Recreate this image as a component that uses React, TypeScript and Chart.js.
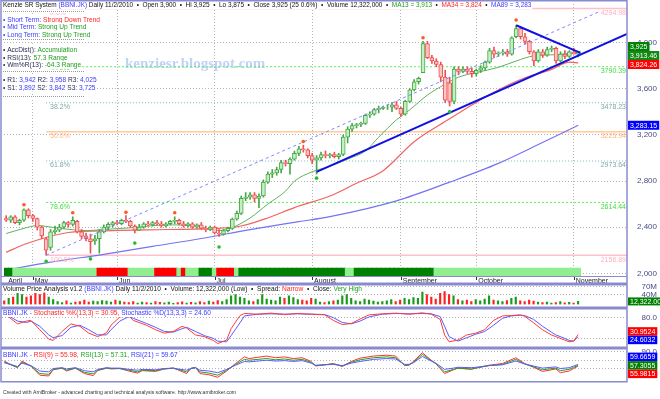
import React, { useEffect, useRef } from 'react';
import { Chart, registerables } from 'chart.js';

Chart.register(...registerables);

// ------------------------------------------------------------------ data
const monthTickIdx = [0, 6, 25, 47, 69, 89, 106, 128];
const monthNames = ['April', 'May', 'Jun', 'Jul', 'August', 'September', 'October', 'November'];
const priceTicks = [2000, 2400, 2800, 3200, 3600, 4000];

const opens = [
  2475, 2460, 2490, 2440, 2460, 2550, 2500, 2475, 2400, 2300,
  2225, 2360, 2375, 2400, 2440, 2425, 2450, 2360, 2325, 2300,
  2280, 2300, 2360, 2400, 2420, 2440, 2430, 2460, 2450, 2410,
  2375, 2400, 2430, 2420, 2440, 2430, 2410, 2430, 2450, 2460,
  2430, 2410, 2430, 2400, 2420, 2390, 2380, 2400, 2350, 2340,
  2370, 2390, 2470, 2520, 2650, 2660, 2680, 2650, 2670, 2790,
  2860, 2870, 2900, 2960, 2950, 2990, 3040, 3080, 3070, 3020,
  2980, 3000, 3030, 3020, 3030, 3010, 3030, 3180, 3250, 3280,
  3290, 3300, 3370, 3380, 3420, 3430, 3440, 3440, 3460, 3430,
  3380, 3490, 3590, 3660, 3740, 3990, 3870, 3840, 3810, 3700,
  3650, 3490, 3770, 3750, 3770, 3750, 3730, 3760, 3780, 3830,
  3930, 3900, 3910, 3920, 3900, 4050, 4120, 4050, 4010, 3920,
  3840, 3920, 3890, 3940, 3950, 3840, 3900, 3880, 3920, 3900,
];
const highs = [
  2500, 2500, 2500, 2470, 2560, 2560, 2510, 2480, 2410, 2310,
  2380, 2410, 2425, 2450, 2450, 2490, 2460, 2380, 2350, 2340,
  2330, 2380, 2420, 2440, 2450, 2460, 2470, 2500, 2460, 2420,
  2425, 2440, 2450, 2450, 2460, 2450, 2440, 2460, 2490, 2470,
  2450, 2440, 2440, 2430, 2440, 2410, 2410, 2410, 2380, 2380,
  2400, 2480, 2540, 2670, 2700, 2700, 2700, 2690, 2810, 2880,
  2900, 2920, 2980, 2980, 3000, 3060, 3100, 3110, 3080, 3040,
  3020, 3050, 3060, 3040, 3050, 3040, 3200, 3270, 3300, 3300,
  3310, 3380, 3400, 3430, 3450, 3450, 3460, 3480, 3490, 3440,
  3500, 3600, 3680, 3700, 4010, 4010, 3890, 3860, 3830, 3760,
  3700, 3790, 3790, 3790, 3790, 3780, 3770, 3800, 3840, 3950,
  3960, 3920, 3940, 3940, 4050, 4150, 4130, 4080, 4020, 3930,
  3940, 3940, 3960, 3970, 3960, 3920, 3930, 3930, 3950, 3925,
];
const lows = [
  2450, 2440, 2430, 2420, 2450, 2480, 2450, 2375, 2300, 2157,
  2200, 2340, 2360, 2390, 2400, 2410, 2350, 2300, 2280, 2175,
  2250, 2175, 2350, 2380, 2400, 2420, 2420, 2440, 2400, 2350,
  2370, 2390, 2410, 2410, 2420, 2400, 2400, 2420, 2430, 2420,
  2400, 2400, 2390, 2390, 2380, 2360, 2370, 2340, 2320, 2330,
  2360, 2380, 2460, 2510, 2630, 2640, 2620, 2570, 2660, 2780,
  2830, 2850, 2870, 2930, 2860, 2980, 3020, 3050, 3000, 2950,
  2860, 2980, 3000, 3000, 3000, 2990, 3020, 3130, 3230, 3260,
  3270, 3290, 3350, 3370, 3390, 3420, 3420, 3400, 3420, 3360,
  3370, 3480, 3580, 3640, 3740, 3860, 3820, 3790, 3660, 3480,
  3450, 3470, 3720, 3740, 3730, 3700, 3710, 3740, 3760, 3820,
  3870, 3880, 3890, 3880, 3890, 4040, 4030, 3990, 3900, 3800,
  3830, 3870, 3880, 3920, 3820, 3830, 3860, 3870, 3900, 3875,
];
const closes = [
  2460, 2490, 2440, 2460, 2550, 2500, 2475, 2400, 2325, 2200,
  2360, 2375, 2400, 2440, 2425, 2460, 2360, 2320, 2300, 2275,
  2300, 2360, 2400, 2425, 2440, 2430, 2460, 2450, 2410, 2375,
  2400, 2430, 2420, 2440, 2430, 2410, 2430, 2450, 2460, 2430,
  2410, 2430, 2400, 2420, 2390, 2380, 2400, 2350, 2340, 2370,
  2390, 2470, 2520, 2650, 2660, 2680, 2650, 2670, 2790, 2860,
  2870, 2900, 2960, 2950, 2990, 3040, 3080, 3070, 3020, 2980,
  3000, 3030, 3020, 3030, 3010, 3030, 3180, 3250, 3280, 3290,
  3300, 3370, 3380, 3420, 3430, 3440, 3440, 3460, 3430, 3380,
  3490, 3590, 3660, 3690, 3990, 3870, 3840, 3810, 3700, 3500,
  3490, 3770, 3750, 3770, 3750, 3730, 3760, 3780, 3830, 3930,
  3900, 3910, 3920, 3900, 4040, 4120, 4050, 4010, 3920, 3840,
  3920, 3890, 3940, 3950, 3840, 3900, 3880, 3920, 3900, 3925,
];
const volumesM = [
  15, 25, 30, 45, 40, 30, 35, 45, 40, 48,
  30, 20, 12, 8, 15, 6, 10, 12, 18, 10,
  14, 12, 16, 14, 10, 18, 14, 10, 8, 12,
  6, 10, 8, 6, 12, 9, 7, 10, 5, 8,
  11, 6, 9, 7, 12, 8, 14, 10, 16, 12,
  20, 35, 40, 30, 25, 15, 12, 20, 40, 22,
  18, 15, 30, 25, 35, 28, 20, 18, 15, 25,
  22, 10, 8, 12, 15, 18, 35, 40, 25, 15,
  12, 22, 18, 14, 10, 12, 15, 20, 12, 18,
  25, 20, 28, 25, 50, 40, 30, 22, 45, 52,
  40, 35, 20, 15, 18, 12, 20, 15, 22, 35,
  18, 15, 12, 16, 25, 30, 15, 12, 18, 14,
  10, 8, 10, 6, 8, 12, 7, 9, 6, 12.322,
];
// trend ribbon: [firstBar, lastBar, state]  D = dark green, L = light green, R = red
const trendSegments: [number, number, string][] = [
  [0, 1, 'D'], [2, 20, 'L'], [21, 27, 'R'], [28, 33, 'L'], [34, 38, 'R'], [39, 39, 'L'],
  [40, 40, 'R'], [41, 43, 'L'], [44, 46, 'D'], [47, 47, 'L'], [48, 51, 'R'], [52, 52, 'L'],
  [53, 76, 'D'], [77, 78, 'L'], [79, 96, 'D'], [97, 129, 'L'],
];
const ma13 = [
  [0, 2345], [4, 2390], [7, 2414], [12, 2390], [18, 2371], [24, 2385], [29, 2397], [36, 2420],
  [42, 2415], [48, 2371], [51, 2397], [55, 2480], [59, 2600], [63, 2713], [65, 2799], [69, 2880],
  [73, 2928], [77, 2990], [81, 3060], [84, 3180], [88, 3330], [91, 3417], [95, 3545], [99, 3640],
  [102, 3700], [106, 3740], [111, 3785], [115, 3840], [119, 3885], [124, 3895], [129, 3913],
];
const ma34 = [
  [0, 2182], [4, 2250], [9, 2311], [14, 2354], [24, 2371], [36, 2380], [48, 2390], [53, 2410],
  [59, 2480], [65, 2570], [73, 2670], [79, 2780], [85, 2890], [92, 3141], [100, 3339], [105, 3459],
  [110, 3570], [116, 3680], [123, 3767], [127, 3830], [129, 3824],
];
const ma89 = [
  [0, 2028], [10, 2097], [22, 2165], [33, 2234], [44, 2302], [55, 2379], [66, 2448], [73, 2491],
  [88, 2628], [100, 2790], [111, 2953], [120, 3116], [129, 3283],
];
const fibStartIdx = 9;
const fibLevels = [4294.98, 3790.39, 3478.23, 3225.94, 2973.64, 2614.44, 2156.89];
const fibPercents = ['0.0%', '23.6%', '38.2%', '50.0%', '61.8%', '78.6%', '100.0%'];
const highMarks = [[4, 2595], [15, 2525], [27, 2530], [38, 2525], [67, 3142], [94, 4041], [115, 4195]];
const lowMarks = [[9, 2105], [19, 2125], [29, 2262], [48, 2228], [70, 2825], [100, 3400]];
const trendDashed = [[9, 2157], [134, 4272]];
const trendSupport = [[70, 2880], [140, 4075]];
const trendResist = [[115, 4150], [129.5, 3910]];

const stochK = [
  [0, 88], [1, 82], [3, 62], [5, 70], [6, 72], [8, 45], [10, 18], [11, 14], [13, 40], [15, 62],
  [17, 55], [19, 35], [21, 25], [23, 36], [24, 58], [26, 82], [28, 85], [29, 72], [32, 58], [34, 45],
  [36, 35], [38, 40], [40, 55], [41, 50], [43, 30], [45, 25], [47, 14], [48, 5], [50, 15], [51, 48],
  [53, 86], [54, 92], [57, 90], [60, 93], [63, 89], [66, 92], [69, 90], [72, 88], [74, 72], [76, 60],
  [78, 63], [80, 76], [82, 88], [85, 91], [88, 93], [91, 90], [94, 94], [96, 90], [98, 75], [99, 30],
  [100, 10], [102, 15], [104, 30], [106, 35], [108, 45], [110, 72], [112, 85], [114, 86], [116, 88],
  [117, 84], [119, 65], [121, 45], [123, 30], [124, 25], [126, 15], [127, 10], [128, 12], [129, 30.95],
];
const stochD = [
  [0, 86], [1, 85], [3, 70], [5, 66], [6, 70], [8, 55], [10, 30], [11, 22], [13, 28], [15, 52],
  [17, 58], [19, 45], [21, 30], [23, 30], [24, 45], [26, 70], [28, 83], [29, 78], [32, 63], [34, 52],
  [36, 40], [38, 38], [40, 48], [41, 52], [43, 40], [45, 28], [47, 20], [48, 12], [50, 10], [51, 28],
  [53, 65], [54, 85], [57, 90], [60, 91], [63, 90], [66, 91], [69, 90], [72, 89], [74, 80], [76, 66],
  [78, 62], [80, 70], [82, 82], [85, 90], [88, 92], [91, 91], [94, 92], [96, 91], [98, 83], [99, 55],
  [100, 25], [102, 12], [104, 22], [106, 32], [108, 40], [110, 58], [112, 78], [114, 85], [116, 87],
  [117, 86], [119, 75], [121, 55], [123, 38], [124, 30], [126, 20], [127, 14], [128, 12], [129, 24.6],
];
const rsi9 = [
  [0, 68], [1, 62], [3, 52], [4, 68], [6, 56], [8, 34], [10, 32], [11, 47], [13, 51], [14, 44],
  [16, 51], [18, 38], [20, 33], [21, 45], [23, 51], [24, 49], [26, 50], [28, 44], [30, 39], [31, 45],
  [34, 43], [36, 49], [38, 51], [39, 47], [41, 38], [42, 51], [43, 53], [44, 38], [46, 35], [48, 29],
  [50, 44], [52, 62], [54, 78], [55, 74], [57, 77], [59, 80], [61, 76], [63, 78], [65, 74], [67, 76],
  [69, 67], [70, 56], [72, 59], [74, 62], [76, 55], [78, 67], [80, 75], [83, 80], [86, 82], [88, 80],
  [90, 57], [91, 58], [92, 67], [94, 88], [96, 70], [97, 62], [99, 38], [101, 47], [102, 51], [105, 48],
  [106, 51], [109, 58], [112, 62], [115, 76], [117, 62], [119, 53], [121, 43], [124, 49], [125, 40],
  [127, 44], [128, 50], [129, 55.98],
];
const rsi13 = [
  [0, 66], [1, 61], [3, 53], [4, 65], [6, 56], [8, 38], [10, 36], [11, 48], [13, 51], [14, 46],
  [16, 51], [18, 41], [20, 37], [21, 46], [23, 51], [24, 50], [26, 50], [28, 46], [30, 42], [31, 46],
  [34, 45], [36, 49], [38, 51], [39, 48], [41, 42], [42, 50], [43, 52], [44, 42], [46, 39], [48, 34],
  [50, 46], [52, 60], [54, 72], [55, 70], [57, 72], [59, 74], [61, 71], [63, 73], [65, 70], [67, 72],
  [69, 65], [70, 57], [72, 59], [74, 61], [76, 56], [78, 65], [80, 71], [83, 76], [86, 78], [88, 76],
  [90, 58], [91, 59], [92, 65], [94, 84], [96, 69], [97, 62], [99, 42], [101, 48], [102, 51], [105, 49],
  [106, 51], [109, 57], [112, 60], [115, 72], [117, 61], [119, 54], [121, 47], [124, 51], [125, 45],
  [127, 48], [128, 53], [129, 57.31],
];
const rsi21 = [
  [0, 64], [1, 61], [3, 55], [4, 63], [6, 57], [8, 44], [10, 42], [11, 50], [13, 52], [14, 49],
  [16, 52], [18, 45], [20, 42], [21, 48], [23, 52], [24, 51], [26, 51], [28, 48], [30, 46], [31, 48],
  [34, 47], [36, 50], [38, 51], [39, 49], [41, 46], [42, 50], [43, 52], [44, 46], [46, 44], [48, 40],
  [50, 48], [52, 58], [54, 67], [55, 66], [57, 68], [59, 70], [61, 68], [63, 69], [65, 67], [67, 69],
  [69, 63], [70, 58], [72, 59], [74, 60], [76, 57], [78, 63], [80, 67], [83, 72], [86, 74], [88, 73],
  [90, 60], [91, 60], [92, 64], [94, 79], [96, 68], [97, 63], [99, 48], [101, 51], [102, 53], [105, 52],
  [106, 53], [109, 57], [112, 59], [115, 68], [117, 61], [119, 56], [121, 51], [124, 54], [125, 50],
  [127, 52], [128, 56], [129, 59.67],
];

// ------------------------------------------------------------------ styles
const X_MIN = -0.5;
const X_MAX = 140;
const FF = '"Liberation Sans", Arial, Helvetica, sans-serif';
const TXT = 6.6;
const font = (px: number = TXT, w: string = 'normal') => `${w} ${px}px ${FF}`;
const BLUE = '#3a3aff';
const RED = '#ff2424';
const GREEN = '#1e9e1e';
const BLACK = '#111111';
const DARKLBL = '#2a2a55';
const FRAME = '#8a8ad0';
const GRID = '#b4b4b4';
const AXIS_TXT = '#4b4b88';
const UP_LINE = '#47a847';
const UP_FILL = '#c4eec4';
const DN_LINE = '#ee5050';
const DN_FILL = '#ffc4c4';
const STRIP_COLORS: Record<string, string> = { D: '#008000', L: '#90ee90', R: '#ff0000' };
const FIB_STYLES = [
  { c: '#ffbfcb', t: '#ffafbf', dash: [] as number[], w: 1.5 },
  { c: '#55ee55', t: '#44dd44', dash: [2, 2], w: 1 },
  { c: '#80b4b4', t: '#80a8a8', dash: [1, 2], w: 1.2 },
  { c: '#ffcc99', t: '#ffb380', dash: [] as number[], w: 1.5 },
  { c: '#80b4b4', t: '#80a8a8', dash: [1, 2], w: 1.2 },
  { c: '#55ee55', t: '#44dd44', dash: [2, 2], w: 1 },
  { c: '#ffbfcb', t: '#ffafbf', dash: [] as number[], w: 1.5 },
];

const toXY = (a: number[][]) => a.map(([x, y]) => ({ x, y }));

type Seg = [string, string];
function drawSegs(ctx: CanvasRenderingContext2D, x: number, y: number, segs: Seg[], f: string, bg = true) {
  ctx.save();
  ctx.font = f;
  ctx.textBaseline = 'middle';
  ctx.textAlign = 'left';
  const ws = segs.map((s) => ctx.measureText(s[0]).width);
  const tot = ws.reduce((a, b) => a + b, 0);
  if (bg) {
    ctx.fillStyle = '#ffffff';
    ctx.fillRect(x - 1, y - 4, tot + 2, 8);
  }
  let cx = x;
  segs.forEach((s, i) => {
    ctx.fillStyle = s[1];
    ctx.fillText(s[0], cx, y + 0.5);
    cx += ws[i];
  });
  ctx.restore();
  return tot;
}

type Box = { value: number; text: string; bg: string };
function drawBoxes(chart: any, boxes: Box[], h: number) {
  const ctx: CanvasRenderingContext2D = chart.ctx;
  const ys = chart.scales.y;
  const arr = boxes.map((b) => ({ ...b, py: ys.getPixelForValue(b.value) })).sort((a, b) => a.py - b.py);
  for (let k = 0; k < 30; k++) {
    for (let i = 0; i < arr.length - 1; i++) {
      const d = arr[i + 1].py - arr[i].py;
      if (d < h) {
        const m = (h - d) / 2;
        arr[i].py -= m;
        arr[i + 1].py += m;
      }
    }
  }
  ctx.save();
  ctx.font = font(7);
  ctx.textBaseline = 'middle';
  ctx.textAlign = 'left';
  arr.forEach((b) => {
    const w = ctx.measureText(b.text).width + 4;
    ctx.fillStyle = b.bg;
    ctx.fillRect(628, b.py - h / 2, w, h);
    ctx.fillStyle = '#ffffff';
    ctx.fillText(b.text, 630, b.py + 0.5);
  });
  ctx.restore();
}

function drawFrame(ctx: CanvasRenderingContext2D, top: number, bottom: number) {
  ctx.save();
  ctx.strokeStyle = FRAME;
  ctx.lineWidth = 1.5;
  ctx.strokeRect(1, top, 626, bottom - top);
  ctx.restore();
}

function hiddenX() {
  return { type: 'linear', min: X_MIN, max: X_MAX, display: false, offset: false, grid: { offset: false } };
}

function rightY(min: number, max: number, ticks: number[], cb: (v: number) => string) {
  return {
    type: 'linear',
    position: 'right',
    min,
    max,
    afterFit: (s: any) => {
      s.width = 30;
      s.paddingTop = 0;
      s.paddingBottom = 0;
    },
    afterBuildTicks: (s: any) => {
      s.ticks = ticks.map((v) => ({ value: v }));
    },
    ticks: {
      autoSkip: false,
      crossAlign: 'far',
      padding: 0,
      color: AXIS_TXT,
      font: { family: FF, size: 8 },
      callback: (v: any) => cb(Number(v)),
    },
    grid: { color: GRID, drawTicks: false, lineWidth: 1 },
    border: { display: false, dash: [1, 2] },
  };
}

const baseOpts = {
  responsive: false,
  animation: false,
  devicePixelRatio: 1,
  events: [] as string[],
  plugins: { legend: { display: false }, tooltip: { enabled: false } },
};

// ------------------------------------------------------------------ price pane
function priceConfig(): any {
  const up = closes.map((c, i) => c >= opens[i]);
  const lineCol = up.map((u) => (u ? UP_LINE : DN_LINE));
  const fillCol = up.map((u) => (u ? UP_FILL : DN_FILL));
  const stripState: string[] = [];
  trendSegments.forEach(([a, b, s]) => {
    for (let i = a; i <= b; i++) stripState[i] = s;
  });
  const lineDs = (data: number[][], color: string, width: number, order: number, extra: any = {}) => ({
    type: 'line',
    data: toXY(data),
    borderColor: color,
    borderWidth: width,
    pointRadius: 0,
    fill: false,
    yAxisID: 'y',
    order,
    ...extra,
  });
  const datasets: any[] = [
    {
      type: 'bar',
      data: stripState.map((_, i) => ({ x: i, y: [0, 1] })),
      backgroundColor: stripState.map((s) => STRIP_COLORS[s]),
      barThickness: 4.9,
      grouped: false,
      yAxisID: 'ys',
      order: 0,
    },
    {
      type: 'bar',
      data: closes.map((c, i) => ({ x: i, y: [opens[i], c] })),
      backgroundColor: fillCol,
      borderColor: lineCol,
      borderWidth: 1,
      borderSkipped: false,
      barThickness: 4,
      grouped: false,
      yAxisID: 'y',
      order: 4,
    },
    {
      type: 'bar',
      data: closes.map((_, i) => ({ x: i, y: [lows[i], highs[i]] })),
      backgroundColor: lineCol,
      barThickness: 1,
      grouped: false,
      yAxisID: 'y',
      order: 5,
    },
    lineDs(ma13, '#5fb05f', 1, 6, { cubicInterpolationMode: 'monotone' }),
    lineDs(ma34, '#f26262', 1.2, 7, { cubicInterpolationMode: 'monotone' }),
    lineDs(ma89, '#7474f2', 1.2, 8, { cubicInterpolationMode: 'monotone' }),
    lineDs(trendDashed, '#8484ff', 1, 3, { borderDash: [3, 3] }),
    lineDs(trendSupport, '#1010e0', 2, 2),
    lineDs(trendResist, '#1010e0', 2, 2),
    lineDs(highMarks, '#ff5a1e', 0, 1, { showLine: false, pointRadius: 1.8, pointBackgroundColor: '#ff5a1e', pointBorderWidth: 0 }),
    lineDs(lowMarks, '#22c022', 0, 1, { showLine: false, pointRadius: 1.8, pointBackgroundColor: '#22c022', pointBorderWidth: 0 }),
  ];
  fibLevels.forEach((lv, k) => {
    datasets.push(
      lineDs([[fibStartIdx, lv], [X_MAX, lv]], FIB_STYLES[k].c, FIB_STYLES[k].w, 9, { borderDash: FIB_STYLES[k].dash })
    );
  });

  const plugin = {
    id: 'pricePane',
    beforeDatasetsDraw(chart: any) {
      const ctx: CanvasRenderingContext2D = chart.ctx;
      ctx.save();
      ctx.font = `bold 15px "Liberation Serif", "DejaVu Serif", serif`;
      ctx.textBaseline = 'middle';
      ctx.textAlign = 'left';
      ctx.fillStyle = 'rgba(150,180,240,0.6)';
      ctx.fillText('kenziesr.blogspot.com', 125, 64);
      ctx.restore();
    },
    afterDraw(chart: any) {
      const ctx: CanvasRenderingContext2D = chart.ctx;
      const xs = chart.scales.x;
      const ys = chart.scales.y;
      const area = chart.chartArea;
      // fib labels
      ctx.save();
      ctx.font = font(7);
      ctx.textBaseline = 'top';
      fibLevels.forEach((lv, k) => {
        const py = ys.getPixelForValue(lv);
        ctx.fillStyle = FIB_STYLES[k].t;
        ctx.textAlign = 'left';
        ctx.fillText(fibPercents[k], xs.getPixelForValue(fibStartIdx) + 4, py + 1);
        ctx.textAlign = 'right';
        ctx.fillText(lv.toFixed(2), area.right - 1, py + 1);
      });
      ctx.restore();
      // month tick marks
      ctx.save();
      ctx.strokeStyle = '#333';
      ctx.lineWidth = 1;
      monthTickIdx.forEach((m, k) => {
        if (k === 0) return;
        const px = Math.round(xs.getPixelForValue(m)) + 0.5;
        ctx.beginPath();
        ctx.moveTo(px, area.bottom);
        ctx.lineTo(px, area.bottom + 4);
        ctx.stroke();
      });
      ctx.restore();
      // title
      drawSegs(ctx, 3, 5, [
        ['Kenzie SR System ', BLACK],
        ['(BBNI.JK)', BLUE],
        [' Daily 11/2/2010  \u2022  Open 3,900  \u2022  Hi 3,925  \u2022  Lo 3,875  \u2022  Close 3,925 (25 0.6%)  \u2022  Volume 12,322,000  \u2022  ', BLACK],
        ['MA13 = 3,913', GREEN],
        ['  \u2022  ', BLACK],
        ['MA34 = 3,824', RED],
        ['  \u2022  ', BLACK],
        ['MA89 = 3,283', BLUE],
      ], font(6.45));
      // legend block
      const rows: [number, Seg[]][] = [
        [19.3, [['\u2022 ', BLUE], ['Short Term: ', BLUE], ['Strong Down Trend', RED]]],
        [26.8, [['\u2022 ', BLUE], ['Mid Term: ', BLUE], ['Strong Up Trend', GREEN]]],
        [34.3, [['\u2022 ', BLUE], ['Long Term: ', BLUE], ['Strong Up Trend', GREEN]]],
        [49.8, [['\u2022 ', DARKLBL], ['AccDist(): ', DARKLBL], ['Accumulation', GREEN]]],
        [57.3, [['\u2022 ', DARKLBL], ['RSI(13): ', DARKLBL], ['57.3 Range', GREEN]]],
        [64.8, [['\u2022 ', DARKLBL], ['Wm%R(13): ', DARKLBL], ['-64.3 Range', GREEN]]],
        [80, [['\u2022 ', DARKLBL], ['R1: ', DARKLBL], ['3,942', BLUE], [' R2: ', DARKLBL], ['3,958', BLUE], [' R3: ', DARKLBL], ['4,025', BLUE]]],
        [87.6, [['\u2022 ', DARKLBL], ['S1: ', DARKLBL], ['3,892', BLUE], [' S2: ', DARKLBL], ['3,842', BLUE], [' S3: ', DARKLBL], ['3,725', BLUE]]],
      ];
      rows.forEach(([y, segs]) => drawSegs(ctx, 3, y, segs, font()));
      ctx.save();
      ctx.strokeStyle = '#9a9a9a';
      ctx.lineWidth = 1;
      ctx.setLineDash([1, 1]);
      [11.5, 39.5, 71.5, 96.5].forEach((y) => {
        ctx.fillStyle = '#fff';
        ctx.fillRect(2, y - 1.5, 84, 3);
        ctx.beginPath();
        ctx.moveTo(3, y);
        ctx.lineTo(85, y);
        ctx.stroke();
      });
      ctx.restore();
      // value boxes
      drawBoxes(chart, [
        { value: 3925, text: '3,925', bg: '#008000' },
        { value: 3913.46, text: '3,913.46', bg: '#118811' },
        { value: 3824.26, text: '3,824.26', bg: '#ff0000' },
        { value: 3283.15, text: '3,283.15', bg: '#0000ff' },
      ], 9);
      // frame
      drawFrame(ctx, 0.75, 283.25);
      ctx.save();
      ctx.strokeStyle = FRAME;
      ctx.lineWidth = 1;
      ctx.beginPath();
      ctx.moveTo(1, area.bottom + 0.5);
      ctx.lineTo(627, area.bottom + 0.5);
      ctx.stroke();
      ctx.restore();
    },
  };

  return {
    type: 'bar',
    data: { datasets },
    options: {
      ...baseOpts,
      layout: { padding: { left: 2, right: 3, top: 1, bottom: 0 } },
      scales: {
        x: {
          type: 'linear',
          min: X_MIN,
          max: X_MAX,
          position: 'bottom',
          offset: false,
          afterFit: (s: any) => {
            s.height = 8;
            s.paddingLeft = 0;
            s.paddingRight = 0;
          },
          afterBuildTicks: (s: any) => {
            s.ticks = monthTickIdx.map((v) => ({ value: v }));
          },
          ticks: {
            autoSkip: false,
            maxRotation: 0,
            minRotation: 0,
            align: 'start',
            padding: 1,
            color: '#222',
            font: { family: FF, size: 7 },
            callback: (_v: any, i: number) => ' ' + monthNames[i],
          },
          grid: {
            offset: false,
            drawTicks: false,
            lineWidth: 1,
            color: (c: any) => (c.tick && c.tick.value === 0 ? 'rgba(0,0,0,0)' : GRID),
          },
          border: { display: false, dash: [1, 2] },
        },
        y: rightY(1977, 4334, priceTicks, (v) => v.toLocaleString('en-US')),
        ys: { type: 'linear', display: false, min: 0, max: 275 / 8 },
      },
    },
    plugins: [plugin],
  };
}

// ------------------------------------------------------------------ volume pane
function volumeConfig(): any {
  const up = closes.map((c, i) => c >= opens[i]);
  const plugin = {
    id: 'volPane',
    afterDraw(chart: any) {
      const ctx: CanvasRenderingContext2D = chart.ctx;
      drawSegs(ctx, 3, 4.5, [
        ['Volume Price Analysis v1.2 ', BLACK],
        ['(BBNI.JK)', BLUE],
        [' Daily 11/2/2010  \u2022  Volume: 12,322,000 (Low)  \u2022  Spread: ', BLACK],
        ['Narrow', RED],
        ['  \u2022  Close: ', BLACK],
        ['Very High', GREEN],
      ], font());
      drawBoxes(chart, [{ value: 12.322, text: '12,322.00', bg: '#008000' }], 8);
      drawFrame(ctx, 0.75, 23.25);
    },
  };
  return {
    type: 'bar',
    data: {
      datasets: [
        {
          data: volumesM.map((v, i) => ({ x: i, y: v })),
          backgroundColor: up.map((u) => (u ? '#1a9a1a' : '#ff2020')),
          barThickness: 1.5,
          grouped: false,
        },
      ],
    },
    options: {
      ...baseOpts,
      layout: { padding: { left: 2, right: 3, top: 1, bottom: 3.5 } },
      scales: { x: hiddenX(), y: rightY(0, 78, [40, 70], (v) => v + 'M') },
    },
    plugins: [plugin],
  };
}

// ------------------------------------------------------------------ stochastic pane
function stochConfig(): any {
  const plugin = {
    id: 'stochPane',
    afterDraw(chart: any) {
      const ctx: CanvasRenderingContext2D = chart.ctx;
      drawSegs(ctx, 3, 5, [
        ['BBNI.JK - ', BLUE],
        ['Stochastic %K(13,3) = 30.95, ', RED],
        ['Stochastic %D(13,3,3) = 24.60', BLUE],
      ], font());
      drawBoxes(chart, [
        { value: 30.9524, text: '30.9524', bg: '#ff0000' },
        { value: 24.6032, text: '24.6032', bg: '#0000ff' },
      ], 8.5);
      drawFrame(ctx, 0.75, 39.25);
    },
  };
  const ds = (d: number[][], c: string) => ({ data: toXY(d), borderColor: c, borderWidth: 1, pointRadius: 0, fill: false, tension: 0 });
  return {
    type: 'line',
    data: { datasets: [ds(stochK, '#ff3a3a'), ds(stochD, '#5a5aff')] },
    options: {
      ...baseOpts,
      layout: { padding: { left: 2, right: 3, top: 1, bottom: 1 } },
      scales: { x: hiddenX(), y: rightY(-5, 105, [20, 80], (v) => v.toFixed(1)) },
    },
    plugins: [plugin],
  };
}

// ------------------------------------------------------------------ RSI pane
function rsiConfig(): any {
  const plugin = {
    id: 'rsiPane',
    afterDraw(chart: any) {
      const ctx: CanvasRenderingContext2D = chart.ctx;
      drawSegs(ctx, 3, 6.5, [
        ['BBNI.JK - ', BLUE],
        ['RSI(9) = 55.98, ', RED],
        ['RSI(13) = 57.31, ', GREEN],
        ['RSI(21) = 59.67', BLUE],
      ], font());
      drawBoxes(chart, [
        { value: 59.6659, text: '59.6659', bg: '#0000ff' },
        { value: 57.3055, text: '57.3055', bg: '#008000' },
        { value: 55.9815, text: '55.9815', bg: '#ff0000' },
      ], 8.5);
      drawFrame(ctx, 0.75, 33.75);
      drawSegs(ctx, 3, 44, [
        ['Created with AmiBroker - advanced charting and technical analysis software. http://www.amibroker.com', '#333333'],
      ], font(5.1), false);
    },
  };
  const ds = (d: number[][], c: string) => ({ data: toXY(d), borderColor: c, borderWidth: 1, pointRadius: 0, fill: false, tension: 0 });
  return {
    type: 'line',
    data: { datasets: [ds(rsi21, '#5a5aff'), ds(rsi13, '#22a022'), ds(rsi9, '#ff3030')] },
    options: {
      ...baseOpts,
      layout: { padding: { left: 2, right: 3, top: 1, bottom: 18 } },
      scales: { x: hiddenX(), y: rightY(20, 97, [50, 70, 90], (v) => v.toFixed(1)) },
    },
    plugins: [plugin],
  };
}

export default function App() {
  const pRef = useRef<HTMLCanvasElement>(null);
  const vRef = useRef<HTMLCanvasElement>(null);
  const sRef = useRef<HTMLCanvasElement>(null);
  const rRef = useRef<HTMLCanvasElement>(null);
  useEffect(() => {
    const charts = [
      new Chart(pRef.current as HTMLCanvasElement, priceConfig()),
      new Chart(vRef.current as HTMLCanvasElement, volumeConfig()),
      new Chart(sRef.current as HTMLCanvasElement, stochConfig()),
      new Chart(rRef.current as HTMLCanvasElement, rsiConfig()),
    ];
    return () => charts.forEach((c) => c.destroy());
  }, []);
  const cs = (top: number): React.CSSProperties => ({ position: 'absolute', left: 0, top });
  return (
    <div style={{ position: 'absolute', left: 0, top: 0, width: 660, height: 399, background: '#ffffff', overflow: 'hidden' }}>
      <canvas ref={pRef} width={660} height={284} style={cs(0)} />
      <canvas ref={vRef} width={660} height={24} style={cs(284)} />
      <canvas ref={sRef} width={660} height={40} style={cs(308)} />
      <canvas ref={rRef} width={660} height={51} style={cs(348)} />
    </div>
  );
}
